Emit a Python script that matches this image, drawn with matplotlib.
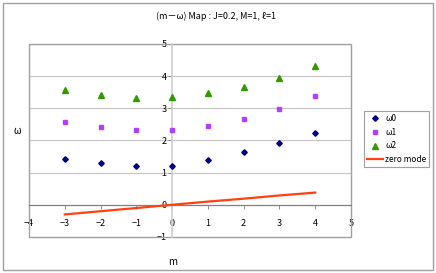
import numpy as np
import matplotlib.pyplot as plt
from matplotlib.patches import Rectangle

plt.rcParams['font.family'] = ['Noto Sans CJK JP', 'DejaVu Sans']

# data
m = [-3, -2, -1, 0, 1, 2, 3, 4]
w0 = [1.42, 1.29, 1.22, 1.22, 1.38, 1.63, 1.91, 2.24]
w1 = [2.56, 2.42, 2.32, 2.32, 2.44, 2.67, 2.99, 3.37]
w2 = [3.56, 3.42, 3.33, 3.34, 3.49, 3.66, 3.94, 4.30]
zero_mode = [-0.30, -0.20, -0.10, 0.0, 0.10, 0.19, 0.29, 0.38]

fig = plt.figure(figsize=(4.36, 2.73), dpi=100)
fig.patches.append(Rectangle((0.007, 0.011), 0.986, 0.978, transform=fig.transFigure,
                             fill=False, edgecolor='#a0a0a0', linewidth=1))
ax = fig.add_axes([0.0665, 0.132, 0.7385, 0.707])

ax.plot(m, w0, 'D', color='#000080', markersize=2.8, label='ω0', zorder=3)
ax.plot(m, w1, 's', color='#b040ff', markersize=3.2, label='ω1', zorder=3)
ax.plot(m, w2, '^', color='#339900', markersize=3.8, label='ω2', zorder=3)
ax.plot(m, zero_mode, '-', color='#ff4010', linewidth=1.6, label='zero mode', zorder=3)

ax.set_xlim(-4, 5)
ax.set_ylim(-1, 5)
ax.set_xticks(range(-4, 6))
ax.set_yticks(range(-1, 6))
for y in range(1, 6):
    ax.axhline(y, color='#c8c8c8', linewidth=0.9, zorder=1)

ax.spines['left'].set_position(('data', 0))
ax.spines['bottom'].set_position(('data', 0))
ax.spines['left'].set_color('#d0d0d0')
ax.spines['left'].set_linewidth(1.2)
ax.spines['bottom'].set_color('#808080')
ax.spines['bottom'].set_linewidth(0.9)
ax.spines['top'].set_visible(False)
ax.spines['right'].set_visible(False)
ax.add_patch(Rectangle((0, 0), 1, 1, transform=ax.transAxes, fill=False,
                       edgecolor='#a0a0a0', linewidth=1, zorder=2, clip_on=False))

ax.tick_params(axis='both', labelsize=6.5, length=3, width=0.6, colors='#808080',
               labelcolor='black', pad=7)
ax.tick_params(axis='y', pad=1)

fig.text(0.495, 0.94, '(m－ω) Map : J=0.2, M=1, ℓ=1', fontsize=6.5, ha='center', va='center')
fig.text(0.039, 0.52, 'ω', fontsize=7, ha='center', va='center')
fig.text(0.395, 0.04, 'm', fontsize=7, ha='center', va='center')

leg = fig.legend(loc='upper left', bbox_to_anchor=(0.836, 0.592), fontsize=6,
                 frameon=True, fancybox=False, edgecolor='#a0a0a0', framealpha=1,
                 handlelength=1.9, borderpad=0.35, labelspacing=0.55, handletextpad=0.25,
                 borderaxespad=0)
leg.get_frame().set_linewidth(0.8)

fig.savefig('out.png', dpi=100)
